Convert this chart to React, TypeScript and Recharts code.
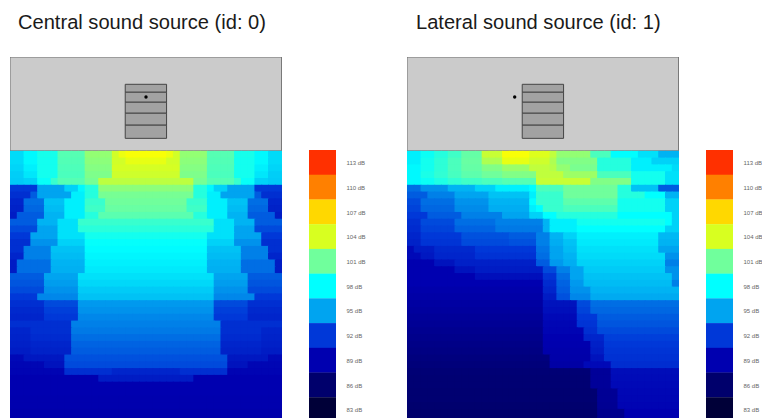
import React from "react";
import { ScatterChart, Scatter, XAxis, YAxis, ReferenceArea, ReferenceDot, BarChart, Bar, Cell } from "recharts";

// Each row: pairs of [dB level, last column index of that run]
const centralHalfRows: number[][] = [
  [96.8,1,97.8,3,98.6,6,100.3,10,102,14,103.8,15,104.8,16,105.3,19],
  [96.8,1,97.8,3,98.5,6,100.2,10,101.8,14,103.8,16,104.6,19],
  [96.6,1,97.5,3,98.5,6,100.1,10,101.6,14,103.9,19],
  [96.4,1,97.2,3,98.5,6,100,10,101.4,14,103.7,19],
  [96.3,1,96.5,3,98.2,5,99.5,6,100.3,10,101.2,12,103.2,19],
  [92,3,95,7,96.5,9,97.8,10,99,12,101.8,19],
  [91.5,2,93,3,95,8,97.5,10,99,12,101.2,19],
  [91,1,93.5,4,96,7,97.5,10,99.5,13,101,19],
  [90.8,1,93.3,4,95.8,7,97.5,10,99.7,13,100.8,19],
  [90.5,0,93,4,95.5,7,97.5,10,99,12,100.4,19],
  [93,3,95.5,6,97,9,99.5,19],
  [92.5,3,95,6,97,9,99.1,19],
  [92,2,95,6,97,10,98.5,19],
  [91.5,2,94.5,6,96.5,10,98.1,19],
  [91.5,1,94,5,96,10,97.9,19],
  [91,1,94,5,95.8,10,97.7,19],
  [90.5,0,93.5,5,95.5,10,97.5,19],
  [90.5,0,93.5,5,95.4,10,97.3,19],
  [93,4,95,9,97,19],
  [92.8,4,94.8,9,96.7,19],
  [92.5,4,94.5,9,96.3,19],
  [92,3,94.2,9,96,19],
  [91.5,4,92.5,9,94.7,19],
  [91.2,4,92.2,9,94.5,19],
  [91,4,92,9,94.2,19],
  [91.5,8,94,19],
  [91,2,91.5,8,93.8,19],
  [90.9,2,91.3,8,93.5,19],
  [90.7,2,91,8,93.2,19],
  [90.5,2,90.8,8,93,19],
  [89.5,1,90.3,7,92.7,19],
  [89.3,4,90,7,92.5,19],
  [89.2,7,91.5,14,91,19],
  [89,12,90.5,19],
  [89,19],
  [89,19],
  [88.9,19],
  [88.9,19],
  [88.8,19],
  [88.8,19],
];

const lateralRows: number[][] = [
  [97.5,1,98.3,3,99,5,99.7,7,100.7,10,103.5,13,105.3,17,104.2,20,103.3,21,102,26,100,29,98,33,97,36,95.5,39],
  [97.5,1,98.5,3,99.2,5,100,7,100.8,10,102.8,13,104.6,17,103.7,20,102.8,21,101.5,27,99,32,97.5,35,96.5,39],
  [97.8,1,98.5,3,99.2,5,100,7,100.7,10,101.5,13,102.2,17,103.3,20,103,21,102,23,101.3,27,99,32,97.5,38,96.8,39],
  [97.8,1,98.7,3,99.3,5,99.9,7,100.5,10,101,13,101.5,18,103.3,22,102.3,27,100,32,98.5,37,97,39],
  [97.8,1,98.3,3,98.8,5,99.3,7,99.7,10,100,13,100.3,18,103.5,26,101.5,32,98.5,37,97,39],
  [93.5,1,94.5,5,95.5,9,96.5,12,97.5,17,98,18,100,22,101,30,99,32,96,36,93,39],
  [93,2,94,6,95,11,96,17,97.5,18,99.5,22,101,30,99,34,98,37,95.5,39],
  [92.5,1,93.5,6,94.5,11,95.5,17,98,18,99.5,22,100.5,30,98.5,37,96.5,39],
  [92.3,1,93.3,6,94.3,11,95.3,17,97.5,18,98,19,99.5,22,100,30,98.5,37,96.5,39],
  [92,2,93,7,94,13,95,17,96.5,19,98,21,99,30,98,38,96.5,39],
  [91.5,1,92.5,6,93.5,12,94,19,95.5,20,97.5,24,98.5,37,98,38,96.5,39],
  [91.3,1,92.3,6,93.2,12,93.8,19,95.5,20,97.5,24,98,37,96.5,39],
  [91,1,92,7,92.7,14,93,18,94,20,95.5,22,96.5,24,97.5,36,95.7,39],
  [90.8,1,91.8,7,92.5,14,92.7,18,94,20,95.3,22,96,24,97.3,36,95.5,39],
  [89.5,0,90.5,3,91.2,9,92,18,93.7,20,95,22,95.8,24,97,36,95,39],
  [89.5,1,90.3,3,91,9,91.7,18,93.5,20,95,22,95.5,24,96.8,37,94.5,39],
  [89,3,90,6,90.7,18,93,20,94.7,22,95.3,24,96.5,37,94,39],
  [89,6,90,9,90.5,19,92.5,21,94,23,95,25,96.3,37,94.5,39],
  [89,9,89.8,19,91.8,21,93.5,23,95,25,96,38,94.5,39],
  [89,19,91.3,21,93.2,23,94.7,25,95.8,38,94,39],
  [88.8,19,91,21,93,23,94.5,26,95.5,39],
  [88.6,19,90.5,21,92.7,23,94.2,26,95.2,39],
  [88.4,19,90,24,92.5,26,93.5,39],
  [88.2,19,89.8,24,92.3,26,93.3,39],
  [88,19,89.5,24,92,27,93,39],
  [87.8,19,89.3,24,91.8,27,92.8,39],
  [87.6,19,89.2,25,91.5,27,92.5,39],
  [87.4,19,89,25,91,28,92.2,39],
  [87.2,19,88.9,26,90.7,28,92,39],
  [87,19,88.8,26,90.5,28,91.8,39],
  [86.8,20,88.7,26,90,28,91.6,39],
  [86.6,20,88.5,25,89.5,29,91.4,39],
  [86.4,26,88,29,89.7,39],
  [86.3,26,88,29,89.6,39],
  [86.3,26,88,29,89.5,39],
  [86.2,27,87.8,30,89.4,39],
  [86.2,27,87.8,30,89.3,39],
  [86.1,27,87.7,30,89.2,39],
  [86,27,87.5,31,89,39],
  [86,27,87.5,31,89,39],
];

const legendLevels = [113, 110, 107, 104, 101, 98, 95, 92, 89, 86, 83];
const legendColors = ["#ff3000", "#ff8000", "#ffd800", "#d8ff20", "#70ff9c", "#00ffff", "#00a4f0", "#0038d8", "#0000b0", "#00006c", "#000038"];
// The ramp passes pure yellow between the 104 and 107 dB swatches
const rampLevels = [113, 110, 107, 105.4, 104, 101, 98, 95, 92, 89, 86, 83];
const rampColors = ["#ff3000", "#ff8000", "#ffd800", "#fbff05", "#d8ff20", "#70ff9c", "#00ffff", "#00a4f0", "#0038d8", "#0000b0", "#00006c", "#000038"];

const titles = ["Central sound source (id: 0)", "Lateral sound source (id: 1)"];
// Room geometry, in cell units of the heat grid (row 0 starts at y = 0)
const roomTop = -13.82;
const deskRowEdges = [-9.8, -8.63, -7.16, -5.54, -3.78, -1.84];
const centralDesk = [16.97, 23.06];
const lateralDesk = [16.97, 23.06];
const centralSource = { x: 20.03, y: -7.93 };
const lateralSource = { x: 15.86, y: -7.93 };

function hexToRgb(hex: string) {
  return [parseInt(hex.slice(1, 3), 16), parseInt(hex.slice(3, 5), 16), parseInt(hex.slice(5, 7), 16)];
}

function colorFor(db: number) {
  for (let i = 0; i < rampLevels.length - 1; i++) {
    const hi = rampLevels[i];
    const lo = rampLevels[i + 1];
    if (db <= hi && db >= lo) {
      const t = (db - lo) / (hi - lo);
      const a = hexToRgb(rampColors[i + 1]);
      const b = hexToRgb(rampColors[i]);
      const c = a.map((v, k) => Math.round(v + (b[k] - v) * t));
      return `rgb(${c[0]},${c[1]},${c[2]})`;
    }
  }
  return rampColors[0];
}

function expand(row: number[]) {
  const out: number[] = [];
  for (let i = 0; i < row.length; i += 2) {
    while (out.length <= row[i + 1]) out.push(row[i]);
  }
  return out;
}

function cells(rows: number[][], mirror: boolean) {
  const pts: { x: number; y: number; db: number }[] = [];
  rows.forEach((row, r) => {
    let vals = expand(row);
    if (mirror) vals = [...vals, ...[...vals].reverse()];
    vals.forEach((db, c) => pts.push({ x: c + 0.5, y: r + 0.5, db }));
  });
  return pts;
}

const CELL = 6.79;
const WIDTH = 40 * CELL;
const HEIGHT = (40 - roomTop) * CELL;

const CellShape = (p: any) => (
  <rect x={p.cx - CELL / 2} y={p.cy - CELL / 2} width={CELL + 1} height={CELL + 1} fill={colorFor(p.payload.db)} stroke="none" />
);

function Panel({ left, rows, mirror, desk, source }: any) {
  const data = cells(rows, mirror);
  return (
    <div style={{ position: "absolute", left, top: 56.5 }}>
      <ScatterChart width={WIDTH} height={HEIGHT} margin={{ top: 0, right: 0, bottom: 0, left: 0 }}>
        <XAxis type="number" dataKey="x" domain={[0, 40]} hide />
        <YAxis type="number" dataKey="y" domain={[roomTop, 40]} reversed hide />
        <Scatter data={data} shape={CellShape} isAnimationActive={false} />
        <ReferenceArea x1={0} x2={40} y1={roomTop} y2={0} fill="#cbcbcb" fillOpacity={1} stroke="#6e6e6e" strokeWidth={1} />
        {deskRowEdges.slice(0, -1).map((edge, i) => (
          <ReferenceArea key={i} x1={desk[0]} x2={desk[1]} y1={edge} y2={deskRowEdges[i + 1]} fill="#a2a2a2" fillOpacity={1} stroke="#444444" strokeWidth={1} />
        ))}
        <ReferenceDot x={source.x} y={source.y} r={1.7} fill="#000000" stroke="none" />
      </ScatterChart>
    </div>
  );
}

const legendData = legendLevels.map((level) => ({ label: `${level} dB`, v: 1 }));

const LegendTick = (p: any) => (
  <text x={p.x + 1.5} y={p.y} dy="0.45em" fontSize={6} fill="#666666" textAnchor="start">
    {p.payload.value}
  </text>
);

function ColorBar({ left }: { left: number }) {
  return (
    <div style={{ position: "absolute", left, top: 150.3 }}>
      <BarChart width={62} height={272} data={legendData} layout="vertical" margin={{ top: 0, right: 0, bottom: 0, left: 0 }} barCategoryGap={0}>
        <XAxis type="number" domain={[0, 1]} hide />
        <YAxis type="category" dataKey="label" orientation="right" width={35} interval={0} axisLine={false} tickLine={false} tickMargin={3} tick={LegendTick} />
        <Bar dataKey="v" isAnimationActive={false}>
          {legendColors.map((c) => (
            <Cell key={c} fill={c} />
          ))}
        </Bar>
      </BarChart>
    </div>
  );
}

const titleStyle: React.CSSProperties = { position: "absolute", top: 10, fontSize: 20.1, lineHeight: "24px", color: "#1a1a1a", whiteSpace: "nowrap" };

export default function App() {
  return (
    <div style={{ position: "absolute", left: 0, top: 0, width: 762, height: 418, overflow: "hidden", background: "#fff", fontFamily: "'Liberation Sans', sans-serif" }}>
      <div style={{ ...titleStyle, left: 18 }}>{titles[0]}</div>
      <div style={{ ...titleStyle, left: 416 }}>{titles[1]}</div>
      <Panel left={10} rows={centralHalfRows} mirror desk={centralDesk} source={centralSource} />
      <Panel left={407.3} rows={lateralRows} mirror={false} desk={lateralDesk} source={lateralSource} />
      <ColorBar left={309} />
      <ColorBar left={706} />
    </div>
  );
}
